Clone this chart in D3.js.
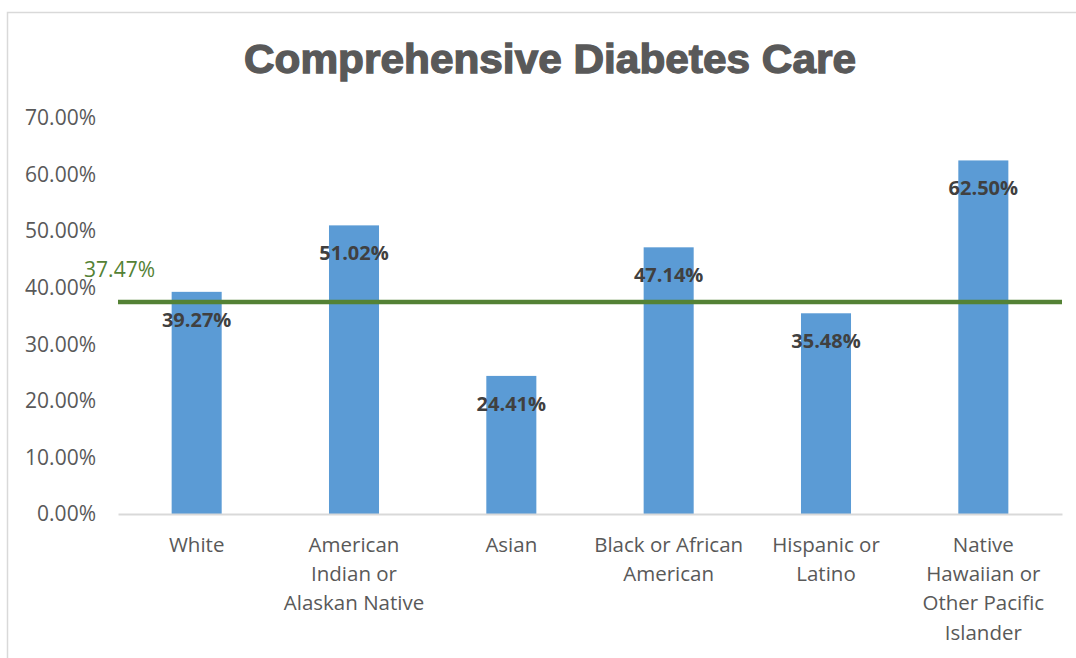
<!DOCTYPE html>
<html>
<head>
<meta charset="utf-8">
<script src="https://cdn.jsdelivr.net/npm/d3@7/dist/d3.min.js"></script>
<style>
  html, body { margin: 0; padding: 0; background: #ffffff; }
  svg { display: block; }
</style>
</head>
<body>
<svg id="chart" width="1076" height="658"></svg>
<script>
// Comprehensive Diabetes Care rate by race / ethnicity
const categories = [
  "White",
  "American Indian or Alaskan Native",
  "Asian",
  "Black or African American",
  "Hispanic or Latino",
  "Native Hawaiian or Other Pacific Islander"
];
const categoryLines = [
  ["White"],
  ["American", "Indian or", "Alaskan Native"],
  ["Asian"],
  ["Black or African", "American"],
  ["Hispanic or", "Latino"],
  ["Native", "Hawaiian or", "Other Pacific", "Islander"]
];
const rates = [0.3927, 0.5102, 0.2441, 0.4714, 0.3548, 0.6250];
const overallRate = 0.3747;
const yTicks = [0, 0.1, 0.2, 0.3, 0.4, 0.5, 0.6, 0.7];
const titleText = "Comprehensive Diabetes Care";

const svg = d3.select("#chart");
const font = "'Open Sans', 'Liberation Sans', sans-serif";
const textGrey = "#595959";

// chart frame
svg.append("rect")
  .attr("x", 7.5).attr("y", 12.5)
  .attr("width", 1100).attr("height", 700)
  .attr("fill", "#ffffff")
  .attr("stroke", "#d9d9d9").attr("stroke-width", 1.5);

const plot = { left: 118, right: 1062, top: 118, bottom: 514 };

const x = d3.scaleBand()
  .domain(categories)
  .range([plot.left, plot.right])
  .paddingInner(0.682)
  .paddingOuter(0.341);

const y = d3.scaleLinear()
  .domain([0, 0.7])
  .range([plot.bottom, plot.top]);

// title
svg.append("text")
  .attr("x", 550).attr("y", 73)
  .attr("text-anchor", "middle")
  .attr("font-family", "'Liberation Sans', Arial, sans-serif")
  .attr("font-weight", "bold")
  .attr("font-size", 40)
  .attr("fill", textGrey)
  .attr("stroke", textGrey).attr("stroke-width", 1.3)
  .attr("textLength", 612)
  .attr("lengthAdjust", "spacingAndGlyphs")
  .text(titleText);

// y axis labels (no axis line, no gridlines)
const yAxis = d3.axisLeft(y)
  .tickValues(yTicks)
  .tickFormat(d3.format(".2%"))
  .tickSize(0)
  .tickPadding(0);
const yG = svg.append("g")
  .attr("transform", `translate(96,0)`)
  .call(yAxis);
yG.select(".domain").remove();
yG.selectAll("text")
  .attr("font-family", font)
  .attr("font-size", 21)
  .attr("fill", textGrey);

// bars
svg.append("g").selectAll("rect")
  .data(rates)
  .join("rect")
  .attr("x", (d, i) => x(categories[i]))
  .attr("y", d => y(d))
  .attr("width", x.bandwidth())
  .attr("height", d => y(0) - y(d))
  .attr("fill", "#5b9bd5");

// category axis
const xAxis = d3.axisBottom(x).tickSize(0).tickFormat("");
const xG = svg.append("g")
  .attr("transform", `translate(0,${plot.bottom})`)
  .call(xAxis);
xG.select(".domain")
  .attr("stroke", "#d9d9d9").attr("stroke-width", 2);

const labelG = svg.append("g");
categoryLines.forEach((lines, i) => {
  const t = labelG.append("text")
    .attr("text-anchor", "middle")
    .attr("font-family", font)
    .attr("font-size", 20.5)
    .attr("fill", textGrey);
  lines.forEach((ln, j) => {
    t.append("tspan")
      .attr("x", x(categories[i]) + x.bandwidth() / 2)
      .attr("y", 552 + j * 29.2)
      .text(ln);
  });
});

// overall rate reference line
svg.append("line")
  .attr("x1", plot.left).attr("x2", plot.right)
  .attr("y1", y(overallRate)).attr("y2", y(overallRate))
  .attr("stroke", "#548235").attr("stroke-width", 4.5);

svg.append("text")
  .attr("x", 155).attr("y", y(overallRate) - 25)
  .attr("text-anchor", "end")
  .attr("font-family", font)
  .attr("font-size", 21)
  .attr("fill", "#548235")
  .text(d3.format(".2%")(overallRate));

// value labels inside the top of each bar
svg.append("g").selectAll("text")
  .data(rates)
  .join("text")
  .attr("x", (d, i) => x(categories[i]) + x.bandwidth() / 2)
  .attr("y", d => y(d) + 35)
  .attr("text-anchor", "middle")
  .attr("font-family", font)
  .attr("font-weight", "bold")
  .attr("font-size", 20)
  .attr("fill", "#404040")
  .text(d => d3.format(".2%")(d));
</script>
</body>
</html>
